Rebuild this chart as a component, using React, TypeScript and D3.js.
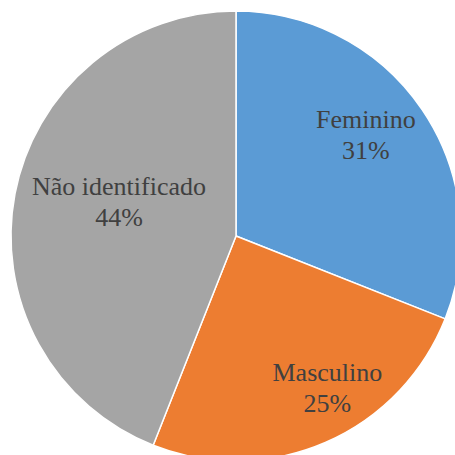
import React from 'react';
import * as d3 from 'd3';

const categories = ['Feminino', 'Masculino', 'Não identificado'];
const values = [31, 25, 44];
const colors = ['#5B9BD5', '#ED7D31', '#A5A5A5'];

// label placement (angle offset in degrees, radius fraction) – mimics Excel's best-fit
const labelPlacement = [
  { dAngle: -3.4, k: 0.729 },
  { dAngle: -7.4, k: 0.793 },
  { dAngle: 4.9, k: 0.54 },
];

const W = 455;
const H = 455;
const cx = 236;
const cy = 236;
const r = 225;
const LINE_GAP = 31;

type Datum = { name: string; value: number; color: string };

const App: React.FC = () => {
  const data: Datum[] = categories.map((c, i) => ({ name: c, value: values[i], color: colors[i] }));
  const arcs = d3.pie<Datum>().value(d => d.value).sort(null)(data);
  const arc = d3.arc<d3.PieArcDatum<Datum>>().innerRadius(0).outerRadius(r);

  return (
    <svg width={W} height={H} style={{ position: 'absolute', left: 0, top: 0 }}>
      <rect width={W} height={H} fill="#ffffff" />
      {arcs.map((a, i) => (
        <path
          key={i}
          transform={`translate(${cx},${cy})`}
          d={arc(a) || ''}
          fill={a.data.color}
          stroke="#ffffff"
          strokeWidth={1.5}
          strokeLinejoin="round"
        />
      ))}
      {arcs.map((a, i) => {
        const mid = (a.startAngle + a.endAngle) / 2 + (labelPlacement[i].dAngle * Math.PI) / 180;
        const [px, py] = d3.pointRadial(mid, r * labelPlacement[i].k);
        const lx = cx + px;
        const ly = cy + py;
        return (
          <React.Fragment key={`l${i}`}>
            <text x={lx} y={ly - 8} textAnchor="middle" fontFamily="serif" fontSize={26} fill="#404040">
              {a.data.name}
            </text>
            <text x={lx} y={ly - 8 + LINE_GAP} textAnchor="middle" fontFamily="serif" fontSize={26} fill="#404040">
              {`${a.data.value}%`}
            </text>
          </React.Fragment>
        );
      })}
    </svg>
  );
};

export default App;
